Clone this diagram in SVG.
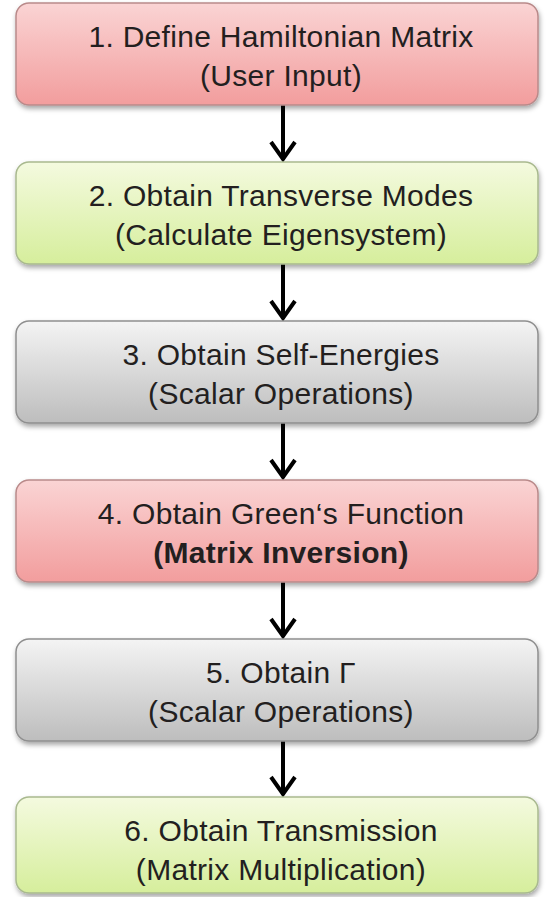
<svg xmlns="http://www.w3.org/2000/svg" width="551" height="897" viewBox="0 0 551 897">
<style>
.box{stroke-width:1.5}
.red{fill:url(#gRed);stroke:#b98a8a}
.green{fill:url(#gGreen);stroke:#a9b98f}
.gray{fill:url(#gGray);stroke:#8f8f8f}
text{font-family:"Liberation Sans",Arial,sans-serif;font-size:30px;fill:#231f1f;text-anchor:middle;letter-spacing:0.3px}
.b{font-weight:bold}
.conn path{fill:none;stroke:#000;stroke-width:4}
</style>
<defs>
<linearGradient id="gRed" x1="0" y1="0" x2="0" y2="1">
<stop offset="0" stop-color="#fad4d4"/><stop offset="1" stop-color="#f29d9d"/>
</linearGradient>
<linearGradient id="gGreen" x1="0" y1="0" x2="0" y2="1">
<stop offset="0" stop-color="#f4fadf"/><stop offset="1" stop-color="#d6ee9c"/>
</linearGradient>
<linearGradient id="gGray" x1="0" y1="0" x2="0" y2="1">
<stop offset="0" stop-color="#f4f4f4"/><stop offset="1" stop-color="#bdbdbd"/>
</linearGradient>
<filter id="sh" x="-5%" y="-10%" width="110%" height="130%">
<feDropShadow dx="1" dy="3" stdDeviation="2.5" flood-color="#000" flood-opacity="0.35"/>
</filter>
</defs>
<g class="conn">
<path d="M283,105 V160 M271,142 L283,159 L295,142"/>
<path d="M283,264 V319 M271,301 L283,318 L295,301"/>
<path d="M283,423 V478 M271,460 L283,477 L295,460"/>
<path d="M283,582 V637 M271,619 L283,636 L295,619"/>
<path d="M283,741 V795 M271,777 L283,794 L295,777"/>
</g>
<g id="n1"><rect class="box red" x="16" y="3" width="522" height="102" rx="13" filter="url(#sh)"/>
<text x="281" y="47">1. Define Hamiltonian Matrix</text><text x="281" y="86">(User Input)</text></g>
<g id="n2"><rect class="box green" x="16" y="162" width="522" height="102" rx="13" filter="url(#sh)"/>
<text x="281" y="206">2. Obtain Transverse Modes</text><text x="281" y="245">(Calculate Eigensystem)</text></g>
<g id="n3"><rect class="box gray" x="16" y="321" width="522" height="102" rx="13" filter="url(#sh)"/>
<text x="281" y="365">3. Obtain Self-Energies</text><text x="281" y="404">(Scalar Operations)</text></g>
<g id="n4"><rect class="box red" x="16" y="480" width="522" height="102" rx="13" filter="url(#sh)"/>
<text x="281" y="524">4. Obtain Green‘s Function</text><text class="b" x="281" y="563">(Matrix Inversion)</text></g>
<g id="n5"><rect class="box gray" x="16" y="639" width="522" height="102" rx="13" filter="url(#sh)"/>
<text x="281" y="683">5. Obtain Γ</text><text x="281" y="722">(Scalar Operations)</text></g>
<g id="n6"><rect class="box green" x="16" y="797" width="522" height="96" rx="13" filter="url(#sh)"/>
<text x="281" y="841">6. Obtain Transmission</text><text x="281" y="880">(Matrix Multiplication)</text></g>
</svg>
